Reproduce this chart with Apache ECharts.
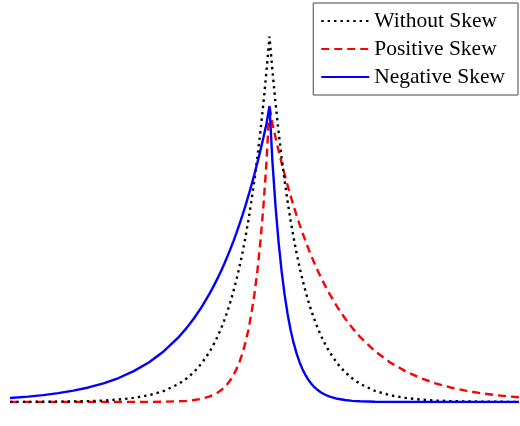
<!DOCTYPE html>
<html>
<head>
<meta charset="utf-8">
<script src="https://cdn.jsdelivr.net/npm/echarts@6/dist/echarts.min.js"></script>
<style>
html,body{margin:0;padding:0;background:#fff;}
#main{width:520px;height:426px;}
</style>
</head>
<body>
<div id="main"></div>
<script>
var seriesNames = ['Without Skew', 'Positive Skew', 'Negative Skew'];
var xs = [-8.6, -8, -7.5, -7, -6.5, -6, -5.5, -5, -4.5, -4, -3.5, -3, -2.75, -2.5, -2.25,
  -2, -1.9, -1.8, -1.7, -1.6, -1.5, -1.4, -1.3, -1.2, -1.1, -1, -0.9, -0.8, -0.7, -0.6, -0.5, -0.4, -0.3, -0.2, -0.1,
  0,
  0.1, 0.2, 0.3, 0.4, 0.5, 0.6, 0.7, 0.8, 0.9, 1, 1.1, 1.2, 1.3, 1.4, 1.5, 1.6, 1.7, 1.8, 1.9, 2,
  2.25, 2.5, 2.75, 3, 3.5, 4, 4.5, 5, 5.5, 6, 6.5, 7, 7.5, 8, 8.27];
var withoutSkew = [0.0001, 0.0002, 0.0003, 0.0005, 0.0008, 0.0012, 0.002, 0.0034, 0.0056, 0.0092, 0.0151, 0.0249, 0.032, 0.041, 0.0527,
  0.0677, 0.0748, 0.0827, 0.0914, 0.1010, 0.1116, 0.1233, 0.1363, 0.1506, 0.1665, 0.1839, 0.2033, 0.2247, 0.2483, 0.2744, 0.3033, 0.3352, 0.3704, 0.4094, 0.4524,
  0.5,
  0.4524, 0.4094, 0.3704, 0.3352, 0.3033, 0.2744, 0.2483, 0.2247, 0.2033, 0.1839, 0.1665, 0.1506, 0.1363, 0.1233, 0.1116, 0.1010, 0.0914, 0.0827, 0.0748, 0.0677,
  0.0527, 0.041, 0.032, 0.0249, 0.0151, 0.0092, 0.0056, 0.0034, 0.002, 0.0012, 0.0008, 0.0005, 0.0003, 0.0002, 0.0001];
var positiveSkew = [0, 0, 0, 0, 0, 0, 0, 0, 0, 0.0001, 0.0004, 0.001, 0.0016, 0.0027, 0.0044,
  0.0073, 0.0090, 0.0109, 0.0134, 0.0163, 0.0199, 0.0243, 0.0297, 0.0363, 0.0443, 0.0541, 0.0661, 0.0808, 0.0986, 0.1205, 0.1472, 0.1797, 0.2195, 0.2681, 0.3275,
  0.405,
  0.3805, 0.3619, 0.3443, 0.3275, 0.3115, 0.2963, 0.2819, 0.2681, 0.2550, 0.2426, 0.2308, 0.2195, 0.2088, 0.1986, 0.1889, 0.1797, 0.1710, 0.1626, 0.1547, 0.1472,
  0.1299, 0.1146, 0.1011, 0.0892, 0.0695, 0.0541, 0.0422, 0.0328, 0.0256, 0.0199, 0.0155, 0.0121, 0.0094, 0.0073, 0.0064];
var negativeSkew = [0.0054, 0.0073, 0.0094, 0.0121, 0.0155, 0.0199, 0.0256, 0.0328, 0.0422, 0.0541, 0.0695, 0.0892, 0.1011, 0.1146, 0.1299,
  0.1472, 0.1547, 0.1626, 0.1710, 0.1797, 0.1889, 0.1986, 0.2088, 0.2195, 0.2308, 0.2426, 0.2550, 0.2681, 0.2819, 0.2963, 0.3115, 0.3275, 0.3443, 0.3619, 0.3805,
  0.405,
  0.3275, 0.2681, 0.2195, 0.1797, 0.1472, 0.1205, 0.0986, 0.0808, 0.0661, 0.0541, 0.0443, 0.0363, 0.0297, 0.0243, 0.0199, 0.0163, 0.0134, 0.0109, 0.0090, 0.0073,
  0.0044, 0.0027, 0.0016, 0.001, 0.0004, 0.0001, 0, 0, 0, 0, 0, 0, 0, 0, 0];

function pairs(ys) { return xs.map(function (x, i) { return [x, ys[i]]; }); }

var chart = echarts.init(document.getElementById('main'), null, {renderer: 'canvas'});
chart.setOption({
  animation: false,
  backgroundColor: '#fff',
  grid: {left: 10, right: 1, top: 0, bottom: 24},
  xAxis: {type: 'value', min: -8.6, max: 8.27, show: false},
  yAxis: {type: 'value', min: 0, max: 0.55, show: false},
  legend: {
    orient: 'vertical',
    right: 2,
    top: 3,
    padding: [7, 13, 7, 7],
    itemWidth: 48,
    itemHeight: 21,
    itemGap: 6,
    borderColor: '#444',
    borderWidth: 1,
    backgroundColor: '#fff',
    itemStyle: {opacity: 0},
    textStyle: {fontFamily: 'Liberation Serif', fontSize: 21.5, color: '#000', lineHeight: 21},
    data: seriesNames
  },
  series: [
    {name: seriesNames[0], type: 'line', data: pairs(withoutSkew), showSymbol: false, symbol: 'none',
     lineStyle: {color: '#000', width: 2.4, type: [2.4, 4]}, itemStyle: {color: '#000'}, z: 3},
    {name: seriesNames[1], type: 'line', data: pairs(positiveSkew), showSymbol: false, symbol: 'none',
     lineStyle: {color: '#ff0000', width: 2.4, type: [8, 5]}, itemStyle: {color: '#ff0000'}, z: 2},
    {name: seriesNames[2], type: 'line', data: pairs(negativeSkew), showSymbol: false, symbol: 'none',
     lineStyle: {color: '#0000ff', width: 2.4, type: 'solid'}, itemStyle: {color: '#0000ff'}, z: 4}
  ]
});
</script>
</body>
</html>
